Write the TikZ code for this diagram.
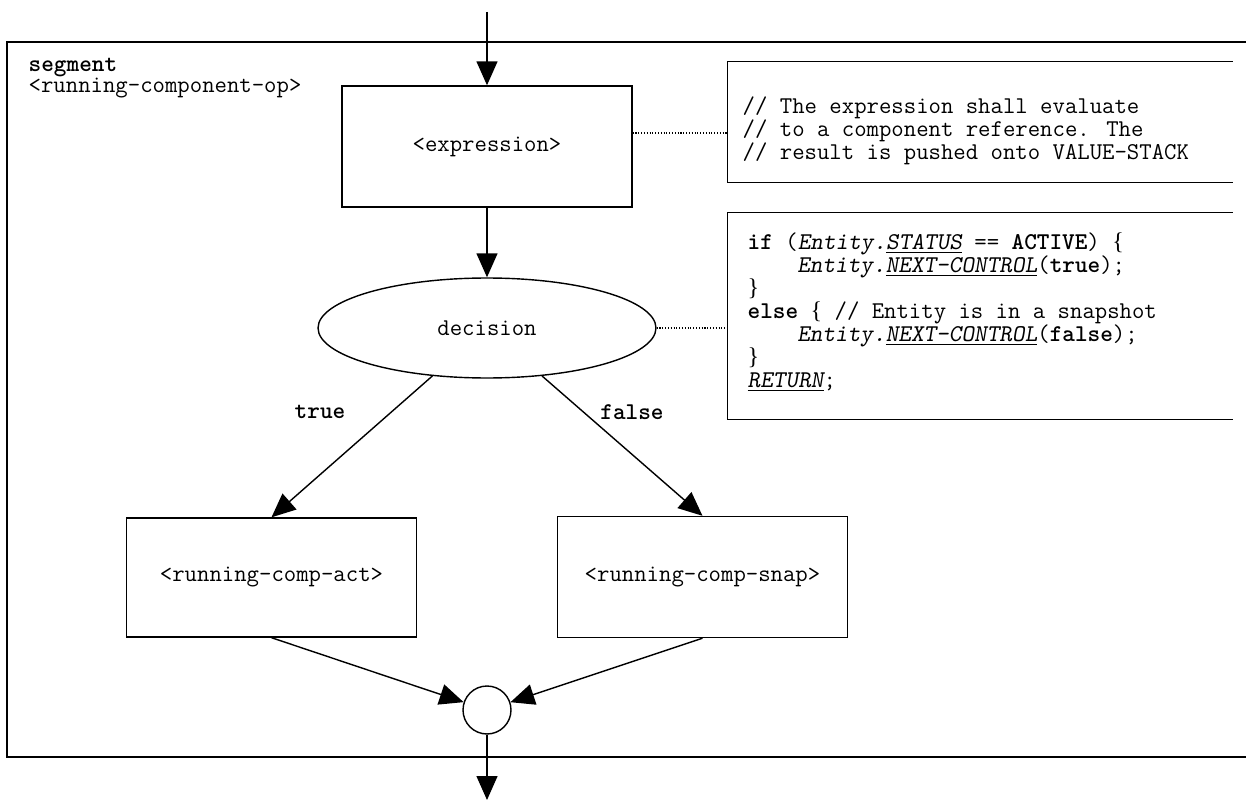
\documentclass[tikz,border=0pt]{standalone}
\usepackage{fontspec}
\newfontfamily\bracefont{Liberation Serif}
\usetikzlibrary{arrows.meta,shapes.geometric}
\newcommand{\lbr}{{\bracefont\{}}
\newcommand{\rbr}{{\bracefont\}}}
\begin{document}
\begin{tikzpicture}[x=0.02cm, y=-0.02cm, >={Triangle[length=0.48cm,width=0.42cm]}, line width=0.8pt,
	every node/.style={font=\ttfamily\fontsize{13.7}{13.1}\selectfont},
	block/.style={draw, rectangle, minimum width=5.8cm, minimum height=2.42cm, inner sep=0pt},
	decide/.style={draw, ellipse, minimum width=6.76cm, minimum height=2cm, inner sep=0pt},
	joint/.style={draw, circle, minimum size=0.96cm, inner sep=0pt},
	notebox/.style={minimum width=10.08cm, inner sep=0pt},
	notetext/.style={anchor=west, align=left, inner sep=0pt},
	branch/.style={font=\ttfamily\bfseries\fontsize{13.7}{13.1}\selectfont},
	link/.style={line width=0.6pt, densely dotted}]
	\useasboundingbox (0,0) rectangle (1246,800);
	
	% 1. segment frame (open to the right)
	\draw (1246,42) -- (7,42) -- (7,757) -- (1246,757);
	\node[anchor=north west, align=left, inner sep=0pt, font=\ttfamily\fontsize{13.7}{10}\selectfont] (title) at (28,57) {\textbf{segment}\\<running-component-op>};
	
	% 2. flow nodes
	\coordinate (in) at (487,12);
	\node[block] (expr) at (487,146.5) {<expression>};
	\node[decide] (dec) at (487,328) {decision};
	\node[block, minimum height=2.38cm] (act) at (271.5,577.5) {<running-comp-act>};
	\node[block] (snap) at (702.5,577) {<running-comp-snap>};
	\node[joint] (join) at (487,710) {};
	\coordinate (out) at (487,800);
	
	% 3. comment boxes (no right edge)
	\node[notebox, minimum height=2.4cm] (note1) at (980,122) {};
	\draw (note1.north east) -- (note1.north west) -- (note1.south west) -- (note1.south east);
	\node[notetext] (text1) at (742,131) {// The expression shall evaluate\\// to a component reference. The\\// result is pushed onto VALUE-STACK};
	
	\node[notebox, minimum height=4.12cm] (note2) at (980,316) {};
	\draw (note2.north east) -- (note2.north west) -- (note2.south west) -- (note2.south east);
	\node[notetext] (text2) at (747,312) {\textbf{if} (\textsl{Entity.\underline{STATUS}} == \textbf{ACTIVE}) \lbr\\
		\hphantom{xxxx}\textsl{Entity.\underline{NEXT-CONTROL}}(\textbf{true});\\
		\rbr\\
		\textbf{else} \lbr{} // Entity is in a snapshot\\
		\hphantom{xxxx}\textsl{Entity.\underline{NEXT-CONTROL}}(\textbf{false});\\
		\rbr\\
		\textsl{\underline{RETURN}};};
	
	% 4. connectors
	\draw[->] (in) -- (expr);
	\draw[->] (expr) -- (dec);
	\draw[->] (dec) -- (act.north);
	\draw[->] (dec) -- (snap.north);
	\draw[->] (act.south) -- (join);
	\draw[->] (snap.south) -- (join);
	\draw[->] (join) -- (out);
	\node[branch] (yes) at (320,412) {true};
	\node[branch] (no) at (632,412) {false};
	
	% 5. dotted links to the comments
	\coordinate (link1) at (728,133);
	\draw[link] (expr.east |- link1) -- (link1);
	\draw[link] (dec.east) -- (dec.east -| note2.west);
\end{tikzpicture}
\end{document}
